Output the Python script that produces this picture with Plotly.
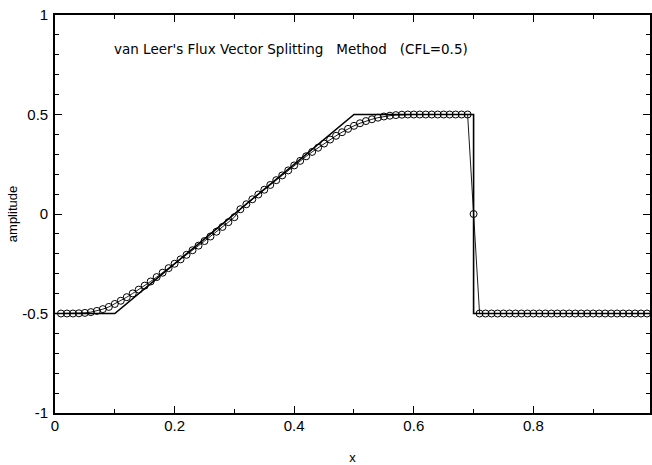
import plotly.graph_objects as go

# Exact solution (piecewise linear)
exact_x = [0.0, 0.1, 0.5, 0.7, 0.7, 0.995]
exact_y = [-0.5, -0.5, 0.5, 0.5, -0.5, -0.5]

# Numerical solution (van Leer FVS), x = 0.01 ... 0.99
num_x = [round(0.01 * i, 2) for i in range(1, 100)]
num_y = [
    -0.500, -0.500, -0.500, -0.499, -0.497, -0.493, -0.487, -0.478, -0.467, -0.452,  # 0.01-0.10
    -0.436, -0.418, -0.399, -0.380, -0.360, -0.339, -0.317, -0.295, -0.272, -0.250,  # 0.11-0.20
    -0.228, -0.205, -0.182, -0.159, -0.136, -0.113, -0.089, -0.065, -0.041, -0.016,  # 0.21-0.30
    0.024, 0.049, 0.074, 0.098, 0.122, 0.146, 0.170, 0.194, 0.219, 0.244,            # 0.31-0.40
    0.267, 0.290, 0.312, 0.333, 0.354, 0.374, 0.393, 0.411, 0.428, 0.443,            # 0.41-0.50
    0.456, 0.467, 0.476, 0.484, 0.490, 0.494, 0.497, 0.499, 0.500, 0.500,            # 0.51-0.60
    0.500, 0.500, 0.500, 0.500, 0.500, 0.500, 0.500, 0.500, 0.500, 0.000,            # 0.61-0.70
    -0.500, -0.500, -0.500, -0.500, -0.500, -0.500, -0.500, -0.500, -0.500, -0.500,  # 0.71-0.80
    -0.500, -0.500, -0.500, -0.500, -0.500, -0.500, -0.500, -0.500, -0.500, -0.500,  # 0.81-0.90
    -0.500, -0.500, -0.500, -0.500, -0.500, -0.500, -0.500, -0.500, -0.500,          # 0.91-0.99
]

x_ticks = [0, 0.2, 0.4, 0.6, 0.8]
x_tick_labels = ["0", "0.2", "0.4", "0.6", "0.8"]
y_ticks = [-1, -0.5, 0, 0.5, 1]
y_tick_labels = ["-1", "-0.5", "0", "0.5", "1"]

title_text = "van Leer's Flux Vector Splitting\u00a0\u00a0 Method\u00a0\u00a0 (CFL=0.5)"

FONT = "Liberation Sans, Arial, sans-serif"
TFONT = "DejaVu Sans, sans-serif"

fig = go.Figure()
fig.add_trace(go.Scatter(
    x=exact_x, y=exact_y, mode="lines",
    line=dict(color="black", width=1.6), showlegend=False,
))
fig.add_trace(go.Scatter(
    x=num_x, y=num_y, mode="lines+markers",
    line=dict(color="black", width=0.9),
    marker=dict(symbol="circle-open", size=7, color="black", line=dict(width=1)),
    showlegend=False,
))

axis_common = dict(
    showgrid=False, zeroline=False,
    showline=True, linecolor="black", linewidth=1.6,
    mirror="ticks", ticks="inside", ticklen=7, tickwidth=1.2, tickcolor="black",
    tickfont=dict(family=FONT, size=15, color="black"),
)

fig.update_layout(
    width=652, height=465,
    margin=dict(l=55, r=0, t=15, b=52),
    paper_bgcolor="white", plot_bgcolor="white",
    font=dict(family=FONT, color="black"),
    xaxis=dict(
        range=[0, 0.995], tickvals=x_ticks, ticktext=x_tick_labels,
        minor=dict(dtick=0.1, tick0=0, ticks="inside", ticklen=4, tickwidth=1.2, tickcolor="black"),
        title=dict(text="x", font=dict(family=FONT, size=13), standoff=20),
        ticklabelstandoff=-2,
        **axis_common,
    ),
    yaxis=dict(
        range=[-1, 1], tickvals=y_ticks, ticktext=y_tick_labels,
        minor=dict(dtick=0.1, tick0=0, ticks="inside", ticklen=4, tickwidth=1.2, tickcolor="black"),
        title=dict(text="amplitude", font=dict(family=FONT, size=13), standoff=2),
        ticklabelstandoff=2,
        **axis_common,
    ),
    annotations=[dict(
        text=title_text, x=0.096, y=0.83, xref="x", yref="y",
        xanchor="left", yanchor="middle", showarrow=False,
        font=dict(family=TFONT, size=13.5, color="black"),
    )],
)

fig.write_html("out.html")
